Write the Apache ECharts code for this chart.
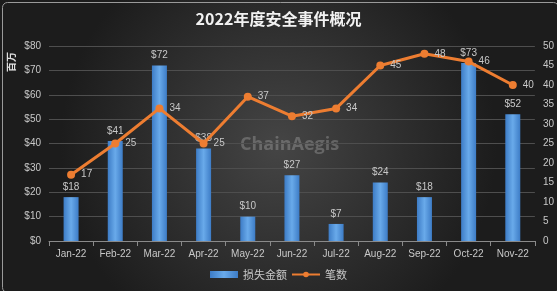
<!DOCTYPE html>
<html><head><meta charset="utf-8">
<script src="https://cdn.jsdelivr.net/npm/echarts@6/dist/echarts.min.js"></script>
<style>html,body{margin:0;padding:0;background:#fff}#c{width:557px;height:291px}</style>
</head><body><div id="c"></div>
<script>
const categories = ['Jan-22','Feb-22','Mar-22','Apr-22','May-22','Jun-22','Jul-22','Aug-22','Sep-22','Oct-22','Nov-22'];
const lossValues = [18, 41, 72, 38, 10, 27, 7, 24, 18, 73, 52];
const countValues = [17, 25, 34, 25, 37, 32, 34, 45, 48, 46, 40];
const titleText = '2022年度安全事件概况';
const seriesNames = ['损失金额', '笔数'];

const chart = echarts.init(document.getElementById('c'));
const lbl = '#c8c8c8';
chart.setOption({
  backgroundColor: {type:'radial', x:0.5, y:0.5, r:0.75, colorStops:[{offset:0,color:'#454545'},{offset:1,color:'#1c1c1c'}]},
  title: {text: titleText, left:'center', top:6, textStyle:{color:'#f2f2f2', fontSize:16, fontWeight:'bold', fontFamily:'Noto Sans CJK SC'}},
  legend: {bottom:6, itemWidth:28, itemHeight:7, itemGap:4, textStyle:{color:lbl, fontSize:11, fontFamily:'Noto Sans CJK SC'},
    data:[{name:seriesNames[0], icon:'rect'}, {name:seriesNames[1]}]},
  grid: {left:49, right:22, top:46, bottom:50},
  xAxis: {type:'category', data:categories, boundaryGap:true,
    axisLine:{lineStyle:{color:'#8a8a8a'}}, axisTick:{show:true, lineStyle:{color:'#8a8a8a'}},
    axisLabel:{color:lbl, fontSize:10, margin:8}},
  yAxis: [
    {type:'value', min:0, max:80, interval:10, axisLabel:{color:lbl, fontSize:10, formatter:v=>'$'+v},
      splitLine:{lineStyle:{color:'#4e4e4e'}}, axisLine:{show:false}},
    {type:'value', min:0, max:50, interval:5, axisLabel:{color:lbl, fontSize:10}, splitLine:{show:false}, axisLine:{show:false}}
  ],
  graphic: [
    {type:'text', left:6, top:52, rotation:Math.PI/2, style:{text:'百万', fill:'#e0e0e0', font:'bold 10px "Noto Sans CJK SC"'}},
    {type:'text', left:240, top:136, z:0, style:{text:'ChainAegis', fill:'rgba(200,200,200,0.3)', font:'bold 18px "Open Sans"'}},
    {type:'rect', left:0, top:0, shape:{width:556, height:290, r:5}, style:{fill:'none', stroke:'#9a9a9a', lineWidth:1}, silent:true}
  ],
  series: [
    {name:seriesNames[0], type:'bar', data:lossValues, barWidth:15, yAxisIndex:0,
      itemStyle:{color:{type:'linear', x:0, y:0, x2:1, y2:0, colorStops:[{offset:0,color:'#3d7cc6'},{offset:0.5,color:'#69aaea'},{offset:1,color:'#3d7cc6'}]}},
      label:{show:true, position:'top', color:lbl, fontSize:10, formatter:p=>'$'+p.value}},
    {name:seriesNames[1], type:'line', data:countValues, yAxisIndex:1, symbol:'circle', symbolSize:8,
      lineStyle:{color:'#ED7D31', width:3}, itemStyle:{color:'#ED7D31'},
      label:{show:true, position:'right', color:lbl, fontSize:10, distance:6}}
  ]
});
</script></body></html>
